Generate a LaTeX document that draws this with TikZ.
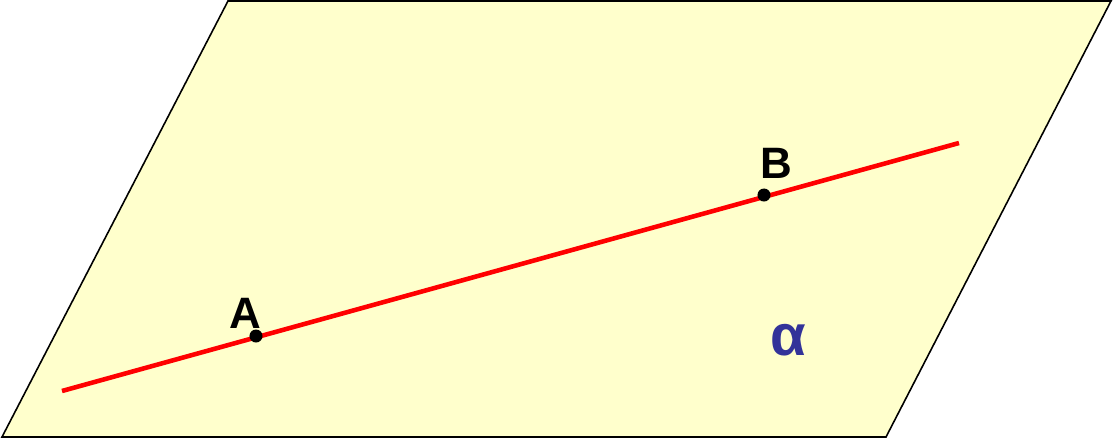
\documentclass[tikz,border=0pt]{standalone}
\usepackage{fontspec}
\setmainfont{Liberation Sans}
\usetikzlibrary{positioning}

\begin{document}
\begin{tikzpicture}[x=.01cm,y=-.01cm,thick]
\tikzset{PointStyle/.style = {circle,fill=black,inner sep=0pt,
                              minimum size=.13cm},
         LabelStyle/.style = {font=\fontsize{12.5}{14}\selectfont\bfseries}}
\definecolor{planefill}{HTML}{FFFFCC}
\definecolor{planeblue}{HTML}{333399}
\useasboundingbox (0,0) rectangle (1114,439);

% plane alpha
\draw[fill=planefill,line width=.45pt] (228,1) -- (1111,1) -- (886,437) -- (2,437) -- cycle;
\node[text=planeblue,font=\fontsize{16.5}{19}\selectfont\bfseries] (alpha) at (788,340) {α};

% line through A and B
\coordinate (L1) at (62,391);
\coordinate (L2) at (959,143);
\draw[red,line width=1.3pt] (L1) -- (L2);

\node[PointStyle] (A) at (256,336) {};
\node[PointStyle] (B) at (764,195) {};
\node[LabelStyle] at (245,313) {A};
\node[LabelStyle] at (776,163) {B};
\end{tikzpicture}
\end{document}
